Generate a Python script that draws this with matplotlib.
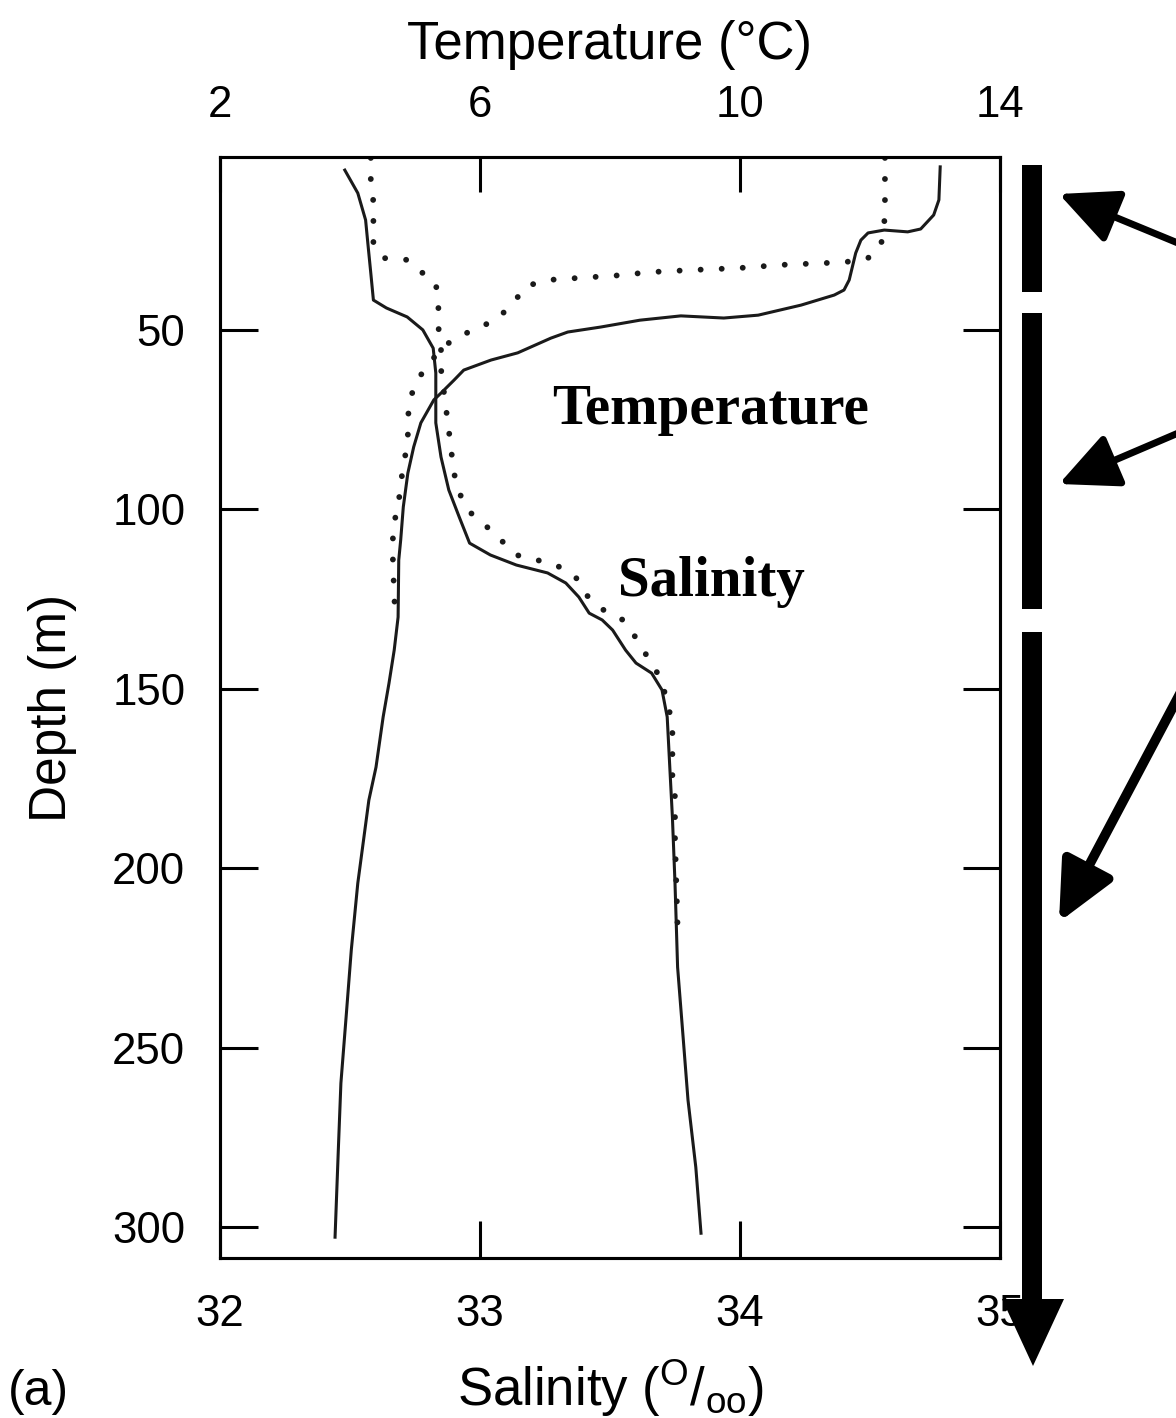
import matplotlib.pyplot as plt
from matplotlib.patches import Rectangle, Polygon

plt.rcParams['font.family'] = ['Liberation Sans', 'DejaVu Sans']
plt.rcParams['mathtext.fontset'] = 'custom'
plt.rcParams['mathtext.rm'] = 'Liberation Sans'

# temperature profiles (deg C) against depth (m)
temp1_depth = [4.7, 13.9, 18.1, 22.0, 22.8, 22.3, 23.1, 25.1, 28.7, 36.2, 39.0, 40.4, 43.2, 46.0,
               46.8, 46.2, 47.4, 49.3, 50.7, 52.4, 56.5, 58.5, 61.3, 64.1, 67.7, 69.6, 76.0, 82.7,
               90.0, 99.4, 108.6, 114.2, 130.1, 139.3, 148.5, 157.9, 171.9, 181.1, 204.2, 222.8,
               241.5, 259.9, 278.6, 302.8]
temp1 = [13.08, 13.06, 12.98, 12.78, 12.58, 12.22, 11.97, 11.86, 11.78, 11.68, 11.60, 11.45, 10.94,
         10.28, 9.75, 9.09, 8.46, 7.86, 7.35, 7.09, 6.58, 6.17, 5.75, 5.60, 5.40, 5.29, 5.09, 4.98,
         4.89, 4.82, 4.78, 4.75, 4.74, 4.68, 4.60, 4.51, 4.40, 4.29, 4.12, 4.02, 3.94, 3.86, 3.82,
         3.77]

temp2_depth = [2.2, 8.4, 14.5, 20.3, 26.5, 30.1, 31.2, 31.5, 32.0, 32.9, 33.4, 34.0, 35.1, 35.4,
               36.2, 37.9, 42.6, 46.8, 49.6, 51.8, 55.2, 59.6, 64.3, 70.2, 75.8, 81.6, 87.7, 93.3,
               99.4, 105.0, 110.9, 116.4, 122.6, 128.7]
temp2 = [12.23, 12.23, 12.23, 12.22, 12.17, 11.97, 11.63, 11.29, 10.63, 9.97, 9.29, 8.63, 8.02,
         7.71, 7.05, 6.71, 6.51, 6.28, 5.98, 5.68, 5.40, 5.22, 5.02, 4.91, 4.89, 4.89, 4.82, 4.78,
         4.74, 4.66, 4.66, 4.66, 4.68, 4.69]

# salinity profiles (o/oo) against depth (m)
sal1_depth = [5.6, 12.0, 19.5, 27.0, 34.3, 41.8, 44.0, 46.5, 50.1, 55.2, 62.1, 67.7, 76.0, 85.5,
              94.7, 102.2, 109.5, 112.8, 115.6, 117.8, 120.6, 124.5, 129.0, 130.9, 133.7, 139.3,
              142.9, 145.7, 150.4, 157.9, 171.9, 185.8, 204.2, 227.6, 246.0, 264.6, 283.3, 301.7]
sal1 = [32.48, 32.53, 32.56, 32.57, 32.58, 32.59, 32.64, 32.72, 32.78, 32.82, 32.83, 32.83, 32.83,
        32.85, 32.88, 32.92, 32.96, 33.04, 33.14, 33.26, 33.33, 33.38, 33.42, 33.47, 33.51, 33.56,
        33.60, 33.66, 33.70, 33.72, 33.73, 33.74, 33.75, 33.76, 33.78, 33.80, 33.83, 33.85]

sal2_depth = [2.2, 8.4, 14.5, 20.3, 26.5, 30.1, 30.6, 34.3, 37.0, 43.2, 49.3, 54.9, 61.0, 72.4,
              78.0, 84.1, 90.0, 95.5, 100.8, 104.5, 108.6, 112.8, 114.2, 115.9, 119.2, 124.0,
              127.9, 130.9, 135.9, 140.7, 145.4, 151.0, 156.8, 162.4, 168.5, 174.1, 180.2, 186.1,
              191.6, 216.4]
sal2 = [32.58, 32.58, 32.59, 32.59, 32.59, 32.63, 32.72, 32.78, 32.83, 32.84, 32.84, 32.85, 32.85,
        32.87, 32.88, 32.89, 32.90, 32.92, 32.96, 33.02, 33.08, 33.14, 33.22, 33.30, 33.37, 33.41,
        33.47, 33.55, 33.60, 33.64, 33.68, 33.71, 33.73, 33.74, 33.74, 33.74, 33.75, 33.75, 33.75,
        33.76]

depth_ticks = [50, 100, 150, 200, 250, 300]
sal_ticks = [32, 33, 34, 35]
temp_ticks = [2, 6, 10, 14]

ink = '#1a1a1a'
dots = (0, (0.01, 3.6))

fig = plt.figure(figsize=(11.76, 14.18), dpi=100)
ax = fig.add_axes([220 / 1176, 160 / 1418, 780 / 1176, 1101 / 1418])
ax2 = ax.twiny()

ax.plot(sal1, sal1_depth, color=ink, lw=2.2)
ax.plot(sal2, sal2_depth, color=ink, lw=4.2, ls=dots, dash_capstyle='round')
ax2.plot(temp1, temp1_depth, color=ink, lw=2.2)
ax2.plot(temp2, temp2_depth, color=ink, lw=4.2, ls=dots, dash_capstyle='round')

ax.set_xlim(32, 35)
ax2.set_xlim(2, 14)
ax.set_ylim(308.6, 1.95)

ax.set_xticks(sal_ticks)
ax.set_yticks(depth_ticks)
ax2.set_xticks(temp_ticks)

ax.tick_params(axis='y', left=True, right=True, direction='in', length=27, width=2.2,
               labelsize=31.5, pad=25)
ax.tick_params(axis='x', direction='in', length=27, width=2.2, labelsize=31.5, pad=26)
ax2.tick_params(axis='x', direction='in', length=25, width=2.2, labelsize=31.5, pad=22)
for a in (ax, ax2):
    for s in a.spines.values():
        s.set_linewidth(2.2)

ax.set_ylabel('Depth (m)', fontsize=37, labelpad=25)
ax.set_xlabel(r'Salinity ($\mathregular{^O/_{oo}}$)', fontsize=38, labelpad=16)
ax2.set_xlabel('Temperature (°C)', fontsize=38, labelpad=19)

ax2.text(9.54, 72.4, 'Temperature', family='Liberation Serif', weight='bold', fontsize=41,
         ha='center', va='center', color='black')
ax.text(33.89, 120.3, 'Salinity', family='Liberation Serif', weight='bold', fontsize=41,
        ha='center', va='center', color='black')

fig.text(8 / 1176, 1 - 1392 / 1418, '(a)', fontsize=36, ha='left', va='center')

# overlay in pixel units for the depth-zone bars and pointing arrows
ov = fig.add_axes([0, 0, 1, 1])
ov.set_xlim(0, 1176)
ov.set_ylim(1418, 0)
ov.axis('off')
ov.patch.set_alpha(0)

for top, bot in [(165, 292), (313, 609), (632, 1302)]:
    ov.add_patch(Rectangle((1022, top), 20, bot - top, color='black', lw=0))
ov.add_patch(Polygon([(1002, 1299), (1064, 1299), (1033, 1366)], closed=True, color='black', lw=0))

for start, tip, lw in [((1190, 248), (1059, 194), 5.0),
                       ((1190, 428), (1059, 484), 5.0),
                       ((1183, 688), (1059, 922), 7.0)]:
    ov.annotate('', xy=tip, xytext=start, annotation_clip=False,
                arrowprops=dict(arrowstyle='-|>,head_length=0.36,head_width=0.17',
                                mutation_scale=100, lw=lw, color='black',
                                shrinkA=0, shrinkB=0))

fig.savefig('out.png', dpi=100)
